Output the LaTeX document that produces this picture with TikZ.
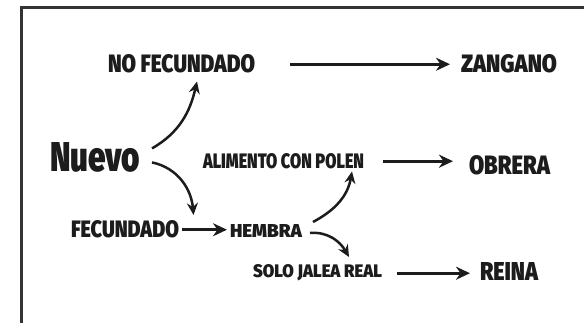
\documentclass[tikz,border=0pt]{standalone}
\usepackage{fontspec}
\usepackage{graphicx}
\newfontfamily\handfont{Fira Sans Black}
\usetikzlibrary{arrows.meta}
\definecolor{ink}{HTML}{1C1C1C}
\newcommand{\fitlabel}[3]{\resizebox{#1pt}{#2pt}{\handfont #3}}
\tikzset{
  lbl/.style={inner sep=0pt, outer sep=0pt, anchor=base west, text=ink},
  straightarrow/.style={draw=ink, line width=2.6pt, -{Stealth[length=14pt,width=13pt,inset=4.5pt]}},
  curvearrow/.style={draw=ink, line width=2.5pt, -{Stealth[length=12pt,width=11pt,inset=4pt]}},
  frameline/.style={draw=ink!90, line width=2.6pt, line join=miter}
}
\begin{document}
\begin{tikzpicture}[x=1pt,y=-1pt]
\useasboundingbox (0,0) rectangle (584,323);
\draw[frameline] (590,7.5) -- (21.5,7.5) -- (21.5,330);

\node[lbl] (nofec) at (108,73) {\fitlabel{147}{18}{NO FECUNDADO}};
\node[lbl] (zang)  at (461,73) {\fitlabel{96}{18}{ZANGANO}};
\node[lbl] (nuevo) at (50,172) {\fitlabel{90}{29}{Nuevo}};
\node[lbl] (alim)  at (203,169) {\fitlabel{161}{15}{ALIMENTO CON POLEN}};
\node[lbl] (obr)   at (469,175) {\fitlabel{81}{19}{OBRERA}};
\node[lbl] (fec)   at (71,238) {\fitlabel{108}{17}{FECUNDADO}};
\node[lbl] (hem)   at (230,238) {\fitlabel{72}{13}{HEMBRA}};
\node[lbl] (solo)  at (253,278) {\fitlabel{129}{13}{SOLO JALEA REAL}};
\node[lbl] (reina) at (480,280) {\fitlabel{58}{18}{REINA}};

\draw[straightarrow, shorten <=35pt, shorten >=11pt] (nofec.east) -- (nofec.east -| zang.west);
\draw[straightarrow, shorten <=19pt, shorten >=16pt] ([yshift=0.5pt]alim.east) -- ([yshift=0.5pt]alim.east -| obr.west);
\draw[straightarrow, shorten <=3pt, shorten >=3pt] (fec.east) -- (fec.east -| hem.west);
\draw[straightarrow, shorten <=15pt, shorten >=10pt] (solo.east) -- (solo.east -| reina.west);

\draw[curvearrow] ([xshift=12pt,yshift=9.5pt]nuevo.east) to[out=30,in=-103] ([xshift=15.5pt,yshift=-8pt]nofec.south);
\draw[curvearrow] ([xshift=12pt,yshift=-4.5pt]nuevo.east) to[out=-12,in=95] ([xshift=68.5pt,yshift=6pt]fec.north);
\draw[curvearrow] ([xshift=11pt,yshift=9.5pt]hem.east) to[out=28,in=-100] ([xshift=68.5pt,yshift=-2pt]alim.south);
\draw[curvearrow] ([xshift=8pt,yshift=-1.5pt]hem.east) to[out=5,in=120] ([xshift=31.5pt,yshift=8pt]solo.north);
\end{tikzpicture}
\end{document}
